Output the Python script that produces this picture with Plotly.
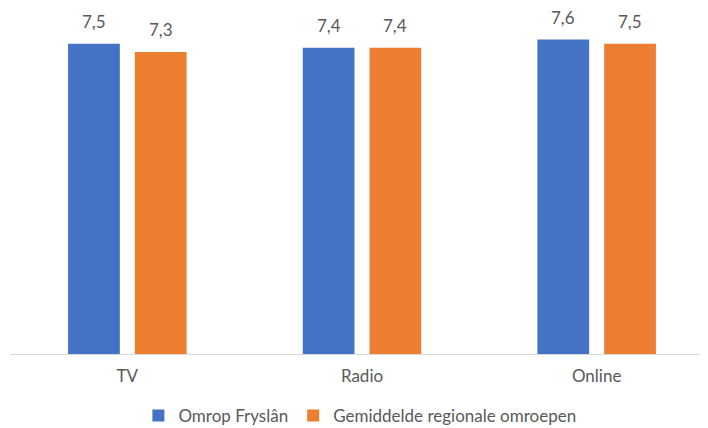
import plotly.graph_objects as go

categories = ["TV", "Radio", "Online"]
series_names = ["Omrop Fryslân", "Gemiddelde regionale omroepen"]
omrop_fryslan = [7.5, 7.4, 7.6]
gemiddelde = [7.3, 7.4, 7.5]
colors = ["#4472C4", "#ED7D31"]

BARGAP = 0.431
GROUPGAP = 0.225
FONT = "Lato"
TXT = "#595959"

fig = go.Figure()
for name, vals, col in zip(series_names, [omrop_fryslan, gemiddelde], colors):
    fig.add_trace(go.Bar(x=categories, y=vals, name=name, marker_color=col,
                         marker_line_width=0))

slot = (1 - BARGAP) / 2
anns = []
for k, vals in enumerate([omrop_fryslan, gemiddelde]):
    off = (k - 0.5) * slot
    for i, v in enumerate(vals):
        anns.append(dict(x=i + off, y=v, xref="x", yref="y",
                         text=f"{v:.1f}".replace(".", ","), showarrow=False,
                         yanchor="bottom", yshift=10,
                         font=dict(family=FONT, size=17, color=TXT)))

# page body has an 8px default margin; layout below is in figure coordinates
fig.update_layout(
    width=708, height=428,
    margin=dict(l=2, r=2, t=14.5, b=81.5),
    paper_bgcolor="white", plot_bgcolor="white",
    barmode="group", bargap=BARGAP, bargroupgap=GROUPGAP,
    font=dict(family=FONT, size=17, color=TXT),
    xaxis=dict(range=[-0.5, 2.5], showline=True, linecolor="#D9D9D9",
               linewidth=1, ticks="", showgrid=False, ticklabelstandoff=7,
               tickfont=dict(family=FONT, size=17, color=TXT)),
    yaxis=dict(range=[0, 8], visible=False),
    showlegend=True,
    legend=dict(orientation="h", x=0.497, xanchor="center", y=-0.187,
                yanchor="middle", font=dict(family=FONT, size=17, color=TXT),
                itemwidth=30),
    annotations=anns,
)
fig.write_html("out.html")
